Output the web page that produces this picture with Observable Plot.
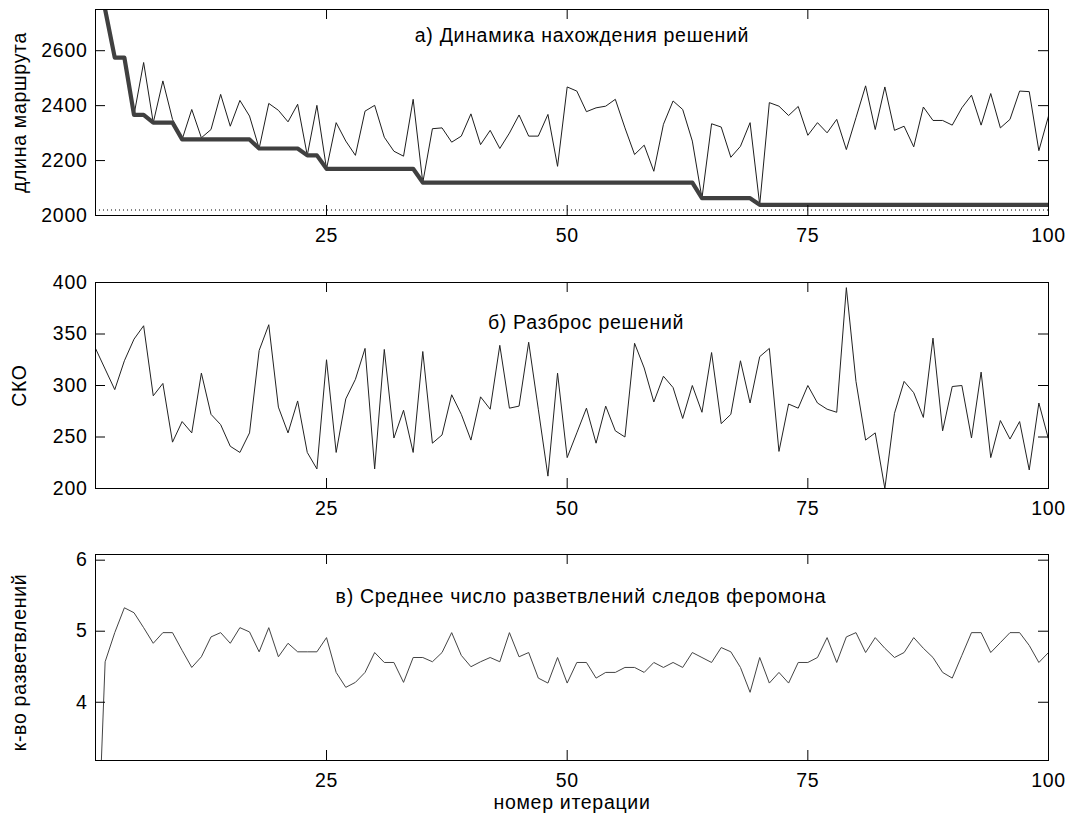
<!DOCTYPE html>
<html><head><meta charset="utf-8">
<script src="https://cdn.jsdelivr.net/npm/d3@7"></script>
<script src="https://cdn.jsdelivr.net/npm/@observablehq/plot@0.6"></script>
<style>
body{margin:0;background:#fff;}
#c{position:relative;width:1068px;height:819px;font-family:"Liberation Sans",Arial,sans-serif;}
#c>div{position:absolute;left:0;}
</style></head><body>
<div id="c"><div id="pa" style="top:0px"></div><div id="pb" style="top:270px"></div><div id="pc" style="top:540px"></div></div>
<script>
// Panel a: current iteration best route length (thin) and best-so-far (thick)
const routeLen = [2950,2750,2575,2575,2366,2557,2338,2490,2350,2277,
2386,2283,2313,2441,2325,2419,2362,2244,2408,2383,
2341,2405,2219,2401,2170,2338,2271,2219,2380,2401,
2285,2234,2216,2423,2120,2316,2319,2267,2289,2370,
2258,2310,2244,2300,2366,2289,2289,2368,2179,2468,
2453,2378,2392,2398,2423,2319,2222,2256,2161,2332,
2417,2386,2271,2063,2334,2322,2212,2252,2338,2039,
2411,2398,2364,2397,2292,2338,2301,2350,2240,2356,
2472,2313,2468,2310,2325,2250,2395,2346,2346,2329,
2392,2438,2329,2444,2319,2350,2453,2451,2236,2362];
const bestLen = [2950,2750,2575,2575,2366,2366,2338,2338,2338,2277,
2277,2277,2277,2277,2277,2277,2277,2244,2244,2244,
2244,2244,2219,2219,2170,2170,2170,2170,2170,2170,
2170,2170,2170,2170,2120,2120,2120,2120,2120,2120,
2120,2120,2120,2120,2120,2120,2120,2120,2120,2120,
2120,2120,2120,2120,2120,2120,2120,2120,2120,2120,
2120,2120,2120,2063,2063,2063,2063,2063,2063,2039,
2039,2039,2039,2039,2039,2039,2039,2039,2039,2039,
2039,2039,2039,2039,2039,2039,2039,2039,2039,2039,
2039,2039,2039,2039,2039,2039,2039,2039,2039,2039];
const optimumLen = [2020];
// Panel b: standard deviation of solutions
const sko = [336,316,296,324,345,358,290,302,245,265,
254,312,272,262,241,235,254,334,359,279,
254,285,235,219,325,235,287,306,336,219,
335,249,276,235,333,244,252,291,272,247,
289,277,339,278,280,342,277,212,312,230,
254,278,244,280,256,250,341,317,284,309,
298,268,300,274,332,263,272,324,283,328,
336,236,282,278,300,283,277,274,395,304,
247,254,200,273,304,293,269,346,256,299,
300,249,313,230,266,248,265,218,283,248];
// Panel c: mean number of pheromone trail branchings
const branches = [1.0,4.57,4.98,5.33,5.26,5.05,4.83,4.98,4.98,4.73,
4.49,4.64,4.92,4.98,4.83,5.05,4.99,4.71,5.05,4.64,
4.83,4.71,4.71,4.71,4.91,4.42,4.21,4.28,4.42,4.70,
4.56,4.56,4.28,4.63,4.63,4.57,4.70,4.98,4.66,4.50,
4.57,4.63,4.57,4.98,4.64,4.70,4.34,4.27,4.63,4.27,
4.56,4.56,4.34,4.42,4.42,4.49,4.49,4.42,4.56,4.49,
4.56,4.49,4.70,4.63,4.56,4.77,4.71,4.49,4.14,4.63,
4.27,4.42,4.27,4.56,4.56,4.63,4.91,4.56,4.92,4.98,
4.70,4.91,4.76,4.63,4.70,4.91,4.76,4.63,4.42,4.34,
4.66,4.98,4.98,4.70,4.84,4.98,4.98,4.80,4.56,4.70];

const xTicks = [25, 50, 75, 100];
const yTicksA = [2000, 2200, 2400, 2600];
const yTicksB = [200, 250, 300, 350, 400];
const yTicksC = [4, 5, 6];
const titleA = "а) Динамика нахождения решений";
const titleB = "б) Разброс решений";
const titleC = "в) Среднее число разветвлений следов феромона";
const yLabelA = "длина маршрута";
const yLabelB = "СКО";
const yLabelC = "к-во разветвлений";
const xLabel = "номер итерации";

const W = 1068, ML = 95, MR = 20;
const FW = W - ML - MR;
const FONT = "'Liberation Sans', Arial, sans-serif";

function panel({height, marginTop, marginBottom, yDomain, yTicks, series, extra = [], title, titleDy, titleDx, yLabel, yLabelDy = 0, bottomLabel}) {
  const H = height - marginTop - marginBottom;
  const TL = 10;
  const marks = [
    ...extra,
    ...series.map(s => Plot.line(s.values, {x: (d, i) => i + 1, y: d => d, stroke: s.color, strokeWidth: s.width, clip: true, strokeLinejoin: "round"})),
    Plot.frame({stroke: "#000", strokeWidth: 1}),
    Plot.ruleX(xTicks, {x: d => d, insetTop: H - TL, stroke: "#000"}),
    Plot.ruleX(xTicks, {x: d => d, insetBottom: H - TL, stroke: "#000"}),
    Plot.ruleY(yTicks, {y: d => d, insetLeft: FW - TL, stroke: "#000"}),
    Plot.ruleY(yTicks, {y: d => d, insetRight: FW - TL, stroke: "#000"}),
    Plot.axisX(xTicks, {tickSize: 0, tickPadding: 13, label: null, tickFormat: d3.format("d"), fill: "#000"}),
    Plot.axisY(yTicks, {tickSize: 0, tickPadding: 8, label: null, tickFormat: d3.format("d"), fill: "#000"}),
    Plot.text([title], {text: d => d, frameAnchor: "top", lineAnchor: "middle", textAnchor: "middle", dy: titleDy, dx: titleDx, fill: "#000"}),
    Plot.text([yLabel], {text: d => d, frameAnchor: "left", textAnchor: "middle", lineAnchor: "middle", rotate: -90, dx: -76, dy: yLabelDy, fill: "#000"})
  ];
  if (bottomLabel) marks.push(Plot.text([bottomLabel], {text: d => d, frameAnchor: "bottom", textAnchor: "middle", lineAnchor: "middle", dy: 42, fill: "#000"}));
  return Plot.plot({
    width: W, height, marginLeft: ML, marginRight: MR, marginTop, marginBottom,
    style: {fontFamily: FONT, fontSize: "19.5px", letterSpacing: "0.7px", color: "#000", background: "white", overflow: "visible"},
    x: {domain: [1, 100]},
    y: {domain: yDomain},
    marks
  });
}

document.getElementById("pa").append(panel({
  height: 270, marginTop: 9, marginBottom: 55,
  yDomain: [2000, 2750], yTicks: yTicksA,
  extra: [Plot.ruleY(optimumLen, {y: d => d, stroke: "#000", strokeDasharray: "1,3", strokeWidth: 1})],
  series: [
    {values: routeLen, color: "#1e1e1e", width: 1},
    {values: bestLen, color: "#404040", width: 4.2}
  ],
  title: titleA, titleDy: 26, titleDx: 10, yLabel: yLabelA
}));

document.getElementById("pb").append(panel({
  height: 270, marginTop: 12, marginBottom: 52,
  yDomain: [200, 400], yTicks: yTicksB,
  series: [{values: sko, color: "#222", width: 1}],
  title: titleB, titleDy: 40, titleDx: 14, yLabel: yLabelB
}));

document.getElementById("pc").append(panel({
  height: 279, marginTop: 14, marginBottom: 59,
  yDomain: [3.18, 6.08], yTicks: yTicksC,
  series: [{values: branches, color: "#444", width: 1}],
  title: titleC, titleDy: 42, titleDx: 9, yLabel: yLabelC, yLabelDy: 5,
  bottomLabel: xLabel
}));
</script>
</body></html>
